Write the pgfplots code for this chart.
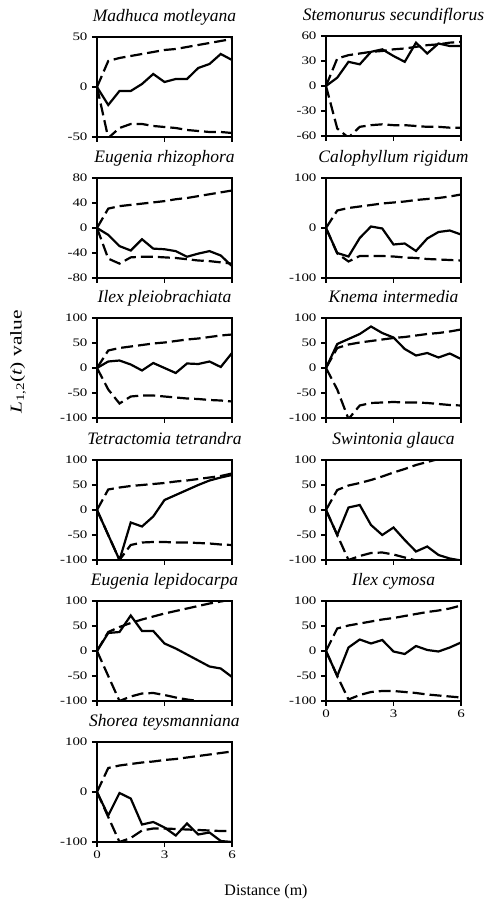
\documentclass[border=0pt]{standalone}
\usepackage{fontspec}
\setmainfont{Liberation Serif}
\newfontfamily\stretchfont{Liberation Serif}[FakeStretch=1.3]
\usepackage{pgfplots}
\pgfplotsset{compat=1.18}
\newcommand{\tickfont}{\stretchfont\fontsize{11.5}{12}\selectfont}
\newcommand{\labelfont}{\stretchfont\fontsize{16.5}{18}\selectfont}
\newcommand{\xlabelfont}{\fontsize{16}{18}\selectfont}
\newcommand{\titlefont}{\fontsize{17.5}{20}\selectfont\itshape}
\pgfplotsset{
  panel/.style={scale only axis, width=135pt, height=100pt,
    xmin=0, xmax=6, xtick={0,3,6}, xticklabels={},
    tick align=outside, major tick length=5pt,
    axis line style={line width=1.1pt},
    every tick/.style={line width=1.1pt, black},
    ytick pos=left, xtick pos=bottom,
    tick label style={font=\tickfont},
    yticklabel style={xshift=-1pt},
    title style={font=\titlefont, at={(0.5,1)}, anchor=base, yshift=9.5pt}},
  sl/.style={black, line width=2.2pt, no marks},
  dl/.style={black, line width=2.2pt, no marks, dash pattern=on 12pt off 5pt},
}
\begin{document}
\begin{tikzpicture}
\useasboundingbox (0,0) rectangle (489pt,903pt);
% Row 1 left
\begin{axis}[panel, at={(97pt,766pt)}, ymin=-50, ymax=50, ytick={-50,0,50}, yticklabels={-50,0,50}, title={Madhuca motleyana}]
\addplot[sl] coordinates {(0,0) (0.5,-18) (1,-4) (1.5,-4) (2,3) (2.5,13) (3,5) (3.5,8) (4,8) (4.5,19) (5,23) (5.5,33) (6,27)};
\addplot[dl] coordinates {(0,0) (0.5,26) (1,29) (1.5,31) (2,33) (2.5,35) (3,37) (3.5,38) (4,40) (4.5,42) (5,44) (5.5,46) (6,48)};
\addplot[dl] coordinates {(0,0) (0.5,-51) (1,-41) (1.5,-37) (2,-37) (2.5,-39) (3,-40) (3.5,-41) (4,-43) (4.5,-44) (5,-45) (5.5,-45) (6,-46)};
\end{axis}
% Row 1 right
\begin{axis}[panel, at={(326pt,767pt)}, ymin=-60, ymax=60, ytick={-60,-30,0,30,60}, yticklabels={-60,-30,0,30,60}, title={Stemonurus secundiflorus}]
\addplot[sl] coordinates {(0,0) (0.5,10) (1,29) (1.5,26) (2,41) (2.5,44) (3,36) (3.5,29) (4,52) (4.5,39) (5,51) (5.5,48) (6,48)};
\addplot[dl] coordinates {(0,0) (0.5,33) (1,37) (1.5,39) (2,41) (2.5,42) (3,44) (3.5,45) (4,47) (4.5,49) (5,50) (5.5,52) (6,53)};
\addplot[dl] coordinates {(0,0) (0.5,-51) (1,-62) (1.5,-49) (2,-47) (2.5,-46) (3,-47) (3.5,-47) (4,-48) (4.5,-49) (5,-49) (5.5,-50) (6,-50)};
\end{axis}
% Row 2 left
\begin{axis}[panel, at={(97pt,625pt)}, ymin=-80, ymax=80, ytick={-80,-40,0,40,80}, yticklabels={-80,-40,0,40,80}, title={Eugenia rhizophora}]
\addplot[sl] coordinates {(0,0) (0.5,-11) (1,-29) (1.5,-36) (2,-18) (2.5,-33) (3,-34) (3.5,-37) (4,-46) (4.5,-41) (5,-37) (5.5,-44) (6,-61)};
\addplot[dl] coordinates {(0,0) (0.5,31) (1,35) (1.5,37) (2,39) (2.5,41) (3,43) (3.5,46) (4,48) (4.5,51) (5,54) (5.5,57) (6,60)};
\addplot[dl] coordinates {(0,0) (0.5,-49) (1,-57) (1.5,-47) (2,-46) (2.5,-46) (3,-47) (3.5,-48) (4,-50) (4.5,-52) (5,-53) (5.5,-55) (6,-57)};
\end{axis}
% Row 2 right
\begin{axis}[panel, at={(326pt,625pt)}, ymin=-100, ymax=100, ytick={-100,0,100}, yticklabels={-100,0,100}, title={Calophyllum rigidum}]
\addplot[sl] coordinates {(0,0) (0.5,-50) (1,-57) (1.5,-20) (2,3) (2.5,-1) (3,-33) (3.5,-31) (4,-46) (4.5,-21) (5,-8) (5.5,-5) (6,-13)};
\addplot[dl] coordinates {(0,0) (0.5,35) (1,40) (1.5,43) (2,46) (2.5,49) (3,51) (3.5,53) (4,56) (4.5,58) (5,60) (5.5,63) (6,67)};
\addplot[dl] coordinates {(0,0) (0.5,-51) (1,-67) (1.5,-56) (2,-56) (2.5,-56) (3,-57) (3.5,-59) (4,-60) (4.5,-62) (5,-63) (5.5,-64) (6,-65)};
\end{axis}
% Row 3 left
\begin{axis}[panel, at={(97pt,485pt)}, ymin=-100, ymax=100, ytick={-100,-50,0,50,100}, yticklabels={-100,-50,0,50,100}, title={Ilex pleiobrachiata}]
\addplot[sl] coordinates {(0,0) (0.5,13) (1,15) (1.5,7) (2,-5) (2.5,10) (3,0) (3.5,-10) (4,9) (4.5,8) (5,13) (5.5,2) (6,30)};
\addplot[dl] coordinates {(0,0) (0.5,35) (1,40) (1.5,43) (2,46) (2.5,49) (3,51) (3.5,54) (4,57) (4.5,59) (5,62) (5.5,65) (6,67)};
\addplot[dl] coordinates {(0,0) (0.5,-43) (1,-71) (1.5,-57) (2,-55) (2.5,-55) (3,-57) (3.5,-59) (4,-61) (4.5,-62) (5,-64) (5.5,-65) (6,-67)};
\end{axis}
% Row 3 right
\begin{axis}[panel, at={(326pt,485pt)}, ymin=-100, ymax=100, ytick={-100,-50,0,50,100}, yticklabels={-100,-50,0,50,100}, title={Knema intermedia}]
\addplot[sl] coordinates {(0,0) (0.5,48) (1,58) (1.5,68) (2,83) (2.5,70) (3,61) (3.5,38) (4,25) (4.5,30) (5,21) (5.5,29) (6,18)};
\addplot[dl] coordinates {(0,0) (0.5,40) (1,47) (1.5,51) (2,54) (2.5,57) (3,60) (3.5,62) (4,65) (4.5,68) (5,70) (5.5,73) (6,77)};
\addplot[dl] coordinates {(0,0) (0.5,-43) (1,-102) (1.5,-75) (2,-70) (2.5,-69) (3,-68) (3.5,-69) (4,-69) (4.5,-70) (5,-72) (5.5,-74) (6,-75)};
\end{axis}
% Row 4 left
\begin{axis}[panel, at={(97pt,343pt)}, ymin=-100, ymax=100, ytick={-100,-50,0,50,100}, yticklabels={-100,-50,0,50,100}, title={Tetractomia tetrandra}]
\addplot[sl] coordinates {(0,0) (0.5,-50) (1,-100) (1.5,-25) (2,-33) (2.5,-13) (3,20) (3.5,30) (4,40) (4.5,50) (5,59) (5.5,65) (6,70)};
\addplot[dl] coordinates {(0,0) (0.5,41) (1,45) (1.5,48) (2,50) (2.5,52) (3,54) (3.5,57) (4,59) (4.5,62) (5,65) (5.5,68) (6,73)};
\addplot[dl] coordinates {(0,0) (0.5,-50) (1,-100) (1.5,-70) (2,-65) (2.5,-64) (3,-64) (3.5,-65) (4,-65) (4.5,-66) (5,-67) (5.5,-69) (6,-70)};
\end{axis}
% Row 4 right
\begin{axis}[panel, at={(326pt,343pt)}, ymin=-100, ymax=100, ytick={-100,-50,0,50,100}, yticklabels={-100,-50,0,50,100}, title={Swintonia glauca}]
\addplot[sl] coordinates {(0,0) (0.5,-50) (1,5) (1.5,10) (2,-30) (2.5,-50) (3,-35) (3.5,-60) (4,-83) (4.5,-73) (5,-90) (5.5,-97) (6,-101)};
\addplot[dl] coordinates {(0,0) (0.5,40) (1,49) (1.5,54) (2,60) (2.5,67) (3,75) (3.5,82) (4,90) (4.5,96) (5,102) (5.5,109) (6,116)};
\addplot[dl] coordinates {(0,0) (0.5,-50) (1,-100) (1.5,-92) (2,-86) (2.5,-85) (3,-89) (3.5,-95) (4,-101) (4.5,-106) (5,-110) (5.5,-114) (6,-118)};
\end{axis}
% Row 5 left
\begin{axis}[panel, at={(97pt,202pt)}, ymin=-100, ymax=100, ytick={-100,-50,0,50,100}, yticklabels={-100,-50,0,50,100}, title={Eugenia lepidocarpa}]
\addplot[sl] coordinates {(0,0) (0.5,36) (1,38) (1.5,71) (2,40) (2.5,40) (3,15) (3.5,5) (4,-7) (4.5,-19) (5,-31) (5.5,-35) (6,-52)};
\addplot[dl] coordinates {(0,0) (0.5,38) (1,48) (1.5,56) (2,63) (2.5,69) (3,75) (3.5,80) (4,85) (4.5,90) (5,95) (5.5,99) (6,103)};
\addplot[dl] coordinates {(0,0) (0.5,-50) (1,-100) (1.5,-91) (2,-85) (2.5,-84) (3,-88) (3.5,-93) (4,-97) (4.5,-100) (5,-103) (5.5,-106) (6,-110)};
\end{axis}
% Row 5 right
\begin{axis}[panel, at={(326pt,202pt)}, ymin=-100, ymax=100, ytick={-100,-50,0,50,100}, yticklabels={-100,-50,0,50,100}, xticklabels={0,3,6}, title={Ilex cymosa}]
\addplot[sl] coordinates {(0,0) (0.5,-50) (1,7) (1.5,23) (2,15) (2.5,22) (3,-1) (3.5,-6) (4,10) (4.5,2) (5,-1) (5.5,7) (6,17)};
\addplot[dl] coordinates {(0,0) (0.5,45) (1,51) (1.5,55) (2,59) (2.5,63) (3,66) (3.5,70) (4,74) (4.5,78) (5,81) (5.5,85) (6,91)};
\addplot[dl] coordinates {(0,0) (0.5,-50) (1,-97) (1.5,-88) (2,-82) (2.5,-80) (3,-80) (3.5,-82) (4,-84) (4.5,-87) (5,-89) (5.5,-91) (6,-93)};
\end{axis}
% Row 6 left
\begin{axis}[panel, at={(97pt,61pt)}, ymin=-100, ymax=100, ytick={-100,0,100}, yticklabels={-100,0,100}, xticklabels={0,3,6}, title={Shorea teysmanniana}]
\addplot[sl] coordinates {(0,0) (0.5,-47) (1,-2) (1.5,-13) (2,-65) (2.5,-60) (3,-71) (3.5,-87) (4,-63) (4.5,-85) (5,-81) (5.5,-98) (6,-100)};
\addplot[dl] coordinates {(0,0) (0.5,48) (1,53) (1.5,56) (2,59) (2.5,61) (3,64) (3.5,66) (4,69) (4.5,72) (5,75) (5.5,78) (6,81)};
\addplot[dl] coordinates {(0,0) (0.5,-50) (1,-100) (1.5,-92) (2,-77) (2.5,-73) (3,-73) (3.5,-74) (4,-75) (4.5,-76) (5,-77) (5.5,-78) (6,-78)};
\end{axis}
\node[rotate=90, anchor=center] at (18pt,541pt) {\labelfont\textit{L}\textsubscript{1,2}(\textit{t}) value};
\node[anchor=base] at (266pt,7pt) {\xlabelfont Distance (m)};
\end{tikzpicture}
\end{document}
